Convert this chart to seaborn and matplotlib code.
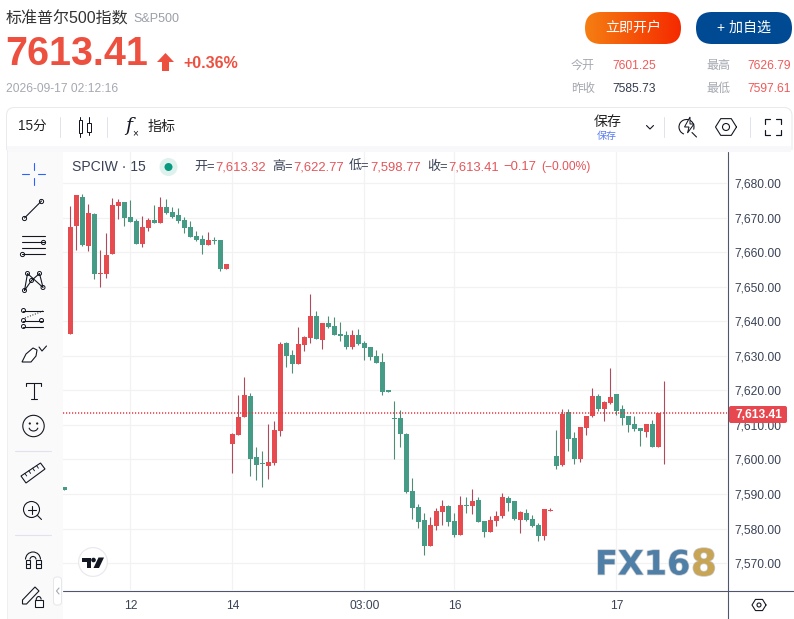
import numpy as np
import pandas as pd
import matplotlib
matplotlib.use('Agg')
import matplotlib.pyplot as plt
import matplotlib.patheffects as pe
from matplotlib.patches import Circle, FancyBboxPatch, Polygon, Rectangle, Arc
import seaborn as sns

# 15 minute bars, first one is cut off by the left edge of the plot
opens = [7592.0,
    7636.3, 7667.6, 7676.0, 7661.8, 7671.0, 7653.7, 7653.7, 7659.5, 7673.3, 7674.5,
    7670.2, 7669.0, 7662.3, 7667.0, 7669.3, 7668.4, 7673.1, 7671.6, 7670.7, 7669.3,
    7667.3, 7664.7, 7663.8, 7662.1, 7663.5, 7663.5, 7655.1, 7604.5, 7607.1, 7612.3,
    7618.4, 7600.7, 7599.0, 7598.1, 7599.0, 7608.2, 7633.7, 7630.2, 7627.6, 7633.1,
    7635.1, 7641.5, 7634.6, 7639.5, 7638.6, 7636.3, 7636.0, 7632.5, 7636.0, 7633.7,
    7632.5, 7629.9, 7628.2, 7620.1, 7612.0, 7612.0, 7607.4, 7590.9, 7586.2, 7582.5,
    7574.9, 7580.7, 7584.8, 7586.5, 7582.2, 7578.1, 7586.8, 7586.5, 7588.2, 7582.2,
    7579.0, 7582.2, 7583.6, 7588.8, 7588.0, 7582.5, 7584.5, 7582.8, 7581.0, 7577.8,
    7585.1, 7601.0, 7598.4, 7613.7, 7606.2, 7600.1, 7609.1, 7612.6, 7618.4, 7614.6,
    7616.3, 7618.9, 7614.6, 7612.6, 7610.2, 7609.1, 7607.9, 7610.2, 7603.6, 7613.32]
highs = [7592.0,
    7673.3, 7676.5, 7676.8, 7673.9, 7671.3, 7660.6, 7665.5, 7675.7, 7675.4, 7674.5,
    7675.1, 7669.6, 7670.4, 7669.9, 7673.6, 7676.0, 7675.4, 7673.1, 7672.8, 7670.2,
    7669.0, 7666.1, 7665.0, 7665.8, 7664.4, 7663.5, 7656.6, 7607.6, 7618.6, 7623.8,
    7619.2, 7603.6, 7602.4, 7610.2, 7611.1, 7634.0, 7634.0, 7631.7, 7638.3, 7635.7,
    7647.9, 7643.0, 7639.5, 7641.5, 7641.2, 7639.8, 7637.2, 7637.5, 7637.7, 7634.3,
    7632.5, 7631.7, 7630.8, 7620.1, 7616.9, 7614.3, 7607.6, 7594.6, 7587.1, 7584.5,
    7583.3, 7585.9, 7588.2, 7586.8, 7584.5, 7589.4, 7589.1, 7591.4, 7589.1, 7582.2,
    7583.6, 7585.1, 7590.3, 7589.4, 7588.0, 7585.1, 7585.6, 7583.9, 7581.6, 7585.6,
    7585.9, 7608.5, 7614.6, 7614.6, 7607.9, 7609.4, 7612.6, 7620.7, 7618.9, 7616.9,
    7626.5, 7618.9, 7615.7, 7612.6, 7612.6, 7609.1, 7610.2, 7611.4, 7613.4, 7622.77]
lows = [7591.1,
    7636.3, 7660.6, 7661.8, 7660.3, 7652.2, 7649.9, 7652.5, 7659.5, 7669.6, 7667.6,
    7668.7, 7662.3, 7661.5, 7666.1, 7668.4, 7668.4, 7671.0, 7669.9, 7668.4, 7665.5,
    7664.4, 7663.2, 7659.5, 7662.1, 7662.3, 7654.5, 7655.1, 7596.1, 7607.1, 7612.3,
    7595.2, 7594.0, 7592.0, 7594.3, 7598.4, 7606.8, 7626.7, 7625.0, 7627.6, 7631.4,
    7633.7, 7634.8, 7632.0, 7638.0, 7636.0, 7634.3, 7632.0, 7632.0, 7633.1, 7628.8,
    7628.8, 7627.9, 7618.6, 7619.5, 7600.1, 7603.6, 7590.3, 7582.8, 7580.1, 7572.3,
    7574.9, 7579.6, 7581.0, 7580.7, 7577.5, 7578.1, 7584.5, 7584.2, 7581.9, 7577.5,
    7579.0, 7580.7, 7583.0, 7585.1, 7582.5, 7578.7, 7582.2, 7580.4, 7576.4, 7576.7,
    7585.1, 7597.2, 7598.1, 7602.4, 7598.7, 7599.2, 7607.1, 7612.3, 7614.0, 7611.1,
    7616.0, 7612.9, 7610.0, 7607.9, 7608.2, 7603.9, 7606.5, 7603.6, 7603.6, 7598.77]
closes = [7591.1,
    7667.3, 7676.5, 7662.1, 7671.3, 7653.7, 7654.0, 7659.2, 7673.6, 7674.5, 7669.9,
    7668.7, 7662.3, 7667.3, 7669.3, 7668.4, 7673.1, 7671.3, 7670.2, 7669.0, 7667.0,
    7664.4, 7663.5, 7662.1, 7663.5, 7663.2, 7655.1, 7656.6, 7607.4, 7612.3, 7618.6,
    7600.1, 7598.4, 7598.7, 7599.2, 7608.5, 7633.4, 7629.9, 7627.6, 7633.4, 7635.4,
    7641.5, 7634.8, 7639.5, 7638.3, 7636.0, 7635.7, 7632.5, 7636.0, 7633.4, 7632.2,
    7629.6, 7627.9, 7619.5, 7619.5, 7611.7, 7607.4, 7590.6, 7585.9, 7581.9, 7574.9,
    7581.0, 7585.1, 7586.5, 7581.9, 7578.1, 7586.8, 7586.5, 7588.0, 7581.9, 7579.0,
    7582.5, 7583.6, 7589.1, 7587.4, 7582.8, 7584.8, 7582.5, 7580.7, 7577.8, 7585.6,
    7585.4, 7598.1, 7613.1, 7605.9, 7600.1, 7609.4, 7612.6, 7618.4, 7614.6, 7616.6,
    7618.1, 7614.0, 7612.0, 7610.0, 7608.8, 7608.2, 7610.2, 7603.6, 7613.4, 7613.41]

y_ticks = [7570, 7580, 7590, 7600, 7610, 7620, 7630, 7640, 7650, 7660, 7670, 7680]
x_tick_bars = [10, 27, 49, 64, 91]
x_tick_labels = ['12', '14', '03:00', '16', '17']
last_price = 7613.41

RED = '#e64b50'
GREEN = '#469b87'
RED_WICK = '#b04a5a'
GREEN_WICK = '#4f8c74'
DARK = '#131722'
AXIS_TEXT = '#3a4256'
GREY = '#a5a8b1'
NUM_RED = '#ee5a5a'

sns.set_theme(style='white')
plt.rcParams['font.family'] = ['Liberation Sans', 'Noto Sans CJK SC', 'DejaVu Sans']
W, H = 794, 619


def pts(n):
    # css pixels to points at dpi 100
    return n * 0.72


fig = plt.figure(figsize=(W / 100, H / 100), dpi=100, facecolor='white')
ax = fig.add_axes([63 / W, (H - 590) / H, (727 - 63) / W, (590 - 152) / H])

df = pd.DataFrame({'bar': np.arange(-1, len(opens) - 1), 'open': opens, 'high': highs,
                   'low': lows, 'close': closes})
df['base'] = df[['open', 'close']].min(axis=1)
df['body'] = (df['close'] - df['open']).abs()
df['up'] = df['close'] >= df['open']

# wicks first so the bodies sit on top
for is_up, wick_color in [(True, RED_WICK), (False, GREEN_WICK)]:
    part = df[df['up'] == is_up]
    ax.vlines(part['bar'], part['low'], part['high'], color=wick_color, lw=pts(1.1), zorder=0.8)

for is_up, body_color in [(True, RED), (False, GREEN)]:
    part = df[df['up'] == is_up]
    sns.barplot(data=part, x='bar', y='body', bottom=part['base'].values, native_scale=True,
                width=5 / 6, gap=0, color=body_color, saturation=1, errorbar=None,
                linewidth=0, ax=ax)

# dash lengths scale with lw, these add up to a 3px period
ax.axhline(last_price, color='#ee2f3a', lw=pts(1.5), ls=(0, (0.8, 1.2)), zorder=3)

ax.set_xlim(-1.25, 109.42)
ax.set_ylim(7562.2, 7689.0)
ax.set_xticks(x_tick_bars)
ax.set_xticklabels(x_tick_labels)
ax.set_yticks(y_ticks)
ax.set_yticklabels([f'{v:,.2f}' for v in y_ticks])
ax.yaxis.tick_right()
ax.tick_params(axis='x', length=0, pad=pts(10), labelsize=pts(12), labelcolor=AXIS_TEXT)
ax.tick_params(axis='y', length=0, pad=pts(7), labelsize=pts(12), labelcolor=AXIS_TEXT)
ax.set_xlabel('')
ax.set_ylabel('')
ax.grid(True, color='#f2f2f3', lw=pts(1.3))
ax.set_axisbelow(True)
for side in ['top', 'left', 'bottom', 'right']:
    ax.spines[side].set_visible(False)

# everything around the chart lives on a pixel-addressed overlay
ui = fig.add_axes([0, 0, 1, 1], zorder=5)
ui.patch.set_alpha(0)
ui.axis('off')


def label(x, y, s, size=12, color=DARK, ha='left', weight='normal', **kw):
    return ui.text(x, y, s, fontsize=pts(size), color=color, ha=ha, va='center', weight=weight, **kw)


def stroke(xs, ys, color=DARK, lw=1.1, **kw):
    ui.plot(xs, ys, color=color, lw=pts(lw), solid_capstyle='round', **kw)


def node(x, y, r=2.1):
    ui.add_patch(Circle((x, y), r, fc='white', ec=DARK, lw=pts(1)))


def hexagon(cx, cy, r, hole):
    a = np.deg2rad(np.arange(0, 361, 60))
    stroke(cx + r * np.cos(a), cy + r * 0.92 * np.sin(a))
    ui.add_patch(Circle((cx, cy), hole, fc='none', ec=DARK, lw=pts(1.1)))


# panel frame, only the toolbar part has a visible border
frame = FancyBboxPatch((6.5, 107.5), 785.5, 520, boxstyle='round,pad=0,rounding_size=8',
                       fc='none', ec='#e9e9ee', lw=pts(1))
ui.add_patch(frame)
frame.set_clip_path(Rectangle((0, 100), W, 50, transform=ui.transData))
ui.add_patch(Rectangle((7, 146), 784, 6, fc='#f8f8fa', ec='none'))
ui.add_patch(Rectangle((7, 152), 56, 467, fc='#fafafb', ec='none'))
stroke([6.5, 6.5], [150, 619], color='#efeff3', lw=1)
stroke([727.5, 727.5], [152, 619], color='#50566b', lw=1.1)
stroke([63, 794], [590.5, 590.5], color='#50566b', lw=1.1)
for sep_x in [60, 107, 664, 750]:
    stroke([sep_x, sep_x], [117, 137], color='#e0e3eb', lw=1)

# header
label(6, 19, '标准普尔500指数', size=16, color='#333333')
label(133, 19, 'S&P500', size=12.5, color='#9a9ea8')
label(5, 54, '7613.41', size=39.5, color='#ee5040', weight='bold')
ui.add_patch(Polygon([(165.5, 53), (174, 62), (169, 62), (169, 71), (162, 71), (162, 62), (157, 62)],
                     fc='#ee5040', ec='none'))
label(183, 63, '+0.36%', size=16, color='#ee5040', weight='bold')
label(6, 89, '2026-09-17 02:12:16', size=12, color=GREY)

# buttons
orange = FancyBboxPatch((585, 12), 96, 32, boxstyle='round,pad=0,rounding_size=16', fc='none', ec='none')
ui.add_patch(orange)
grad = np.linspace(0, 1, 64).reshape(1, -1)
cmap = matplotlib.colors.LinearSegmentedColormap.from_list('btn', ['#f57e12', '#f52a00'])
img = ui.imshow(grad, extent=(585, 681, 44, 12), cmap=cmap, aspect='auto', zorder=1)
img.set_clip_path(orange)
label(633, 28, '立即开户', size=14, color='white', ha='center', zorder=2)
ui.add_patch(FancyBboxPatch((696, 12), 96, 32, boxstyle='round,pad=0,rounding_size=16', fc='#004a94', ec='none'))
label(744, 28, '+ 加自选', size=14, color='white', ha='center')

# quote table
for lx, vx, yy, name, val, col in [(571, 612, 66, '今开', '7601.25', NUM_RED),
                                   (706, 747, 66, '最高', '7626.79', NUM_RED),
                                   (571, 612, 89, '昨收', '7585.73', '#333a4d'),
                                   (706, 747, 89, '最低', '7597.61', NUM_RED)]:
    label(lx, yy, name, size=12, color=GREY)
    label(vx, yy, val, size=12, color=col)

# top toolbar
label(18, 127, '15分', size=13.5, color='#222222')
for x0, x1, wt, wb, bt, bb in [(78.5, 82, 117, 137, 120, 133), (86.5, 90.5, 117, 135, 123, 132)]:
    xm = (x0 + x1) / 2
    stroke([xm, xm], [wt, wb], lw=1)
    ui.add_patch(Rectangle((x0, bt), x1 - x0, bb - bt, fc='white', ec=DARK, lw=pts(1), zorder=3))
ui.text(129, 126, 'f', fontsize=pts(19), family='DejaVu Serif', style='italic', color=DARK, ha='center', va='center')
label(132, 133, '×', size=10, color=DARK)
label(148, 127, '指标', size=14, color='#222222')
label(607.5, 122, '保存', size=14, color='#222222', ha='center')
label(607, 136, '保存', size=10, color='#5b7cf0', ha='center')
stroke([646.5, 650, 653.5], [125.5, 129, 125.5])
ui.add_patch(Arc((686.5, 127), 15, 15, theta1=110, theta2=20, ec=DARK, lw=pts(1.1)))
ui.add_patch(Polygon([(690, 117), (684.5, 127), (689, 127), (687.5, 133), (694, 124), (690, 124)],
                     fc='white', ec=DARK, lw=pts(1), zorder=3))
stroke([692, 696.5], [132.5, 137])
hexagon(726, 127, 10.5, 3.5)
for cx, sx in [(764.5, 1), (780.5, -1)]:
    for cy, sy in [(118.5, 1), (134.5, -1)]:
        stroke([cx + sx * 5, cx, cx], [cy, cy, cy + sy * 5], color=DARK, lw=1.2)

# status line above the plot
label(72, 167, 'SPCIW · 15', size=14, color=AXIS_TEXT)
ui.add_patch(Circle((168.5, 167), 9, fc='#dff1ed', ec='none'))
ui.add_patch(Circle((168.5, 167), 4, fc='#089981', ec='none'))
for x0, name, val in [(194, '开', '7,613.32'), (272, '高', '7,622.77'), (349, '低', '7,598.77'), (427, '收', '7,613.41')]:
    label(x0, 167, name + '=', size=13, color=AXIS_TEXT)
    label(x0 + 21, 167, val, size=13, color='#e4555a')
label(503, 167, '−0.17', size=13, color='#e4555a')
label(541, 167, '(−0.00%)', size=12, color='#e4555a')

# left drawing tools
blue = '#2962ff'
stroke([22, 29], [174, 174], color=blue)
stroke([38, 45], [174, 174], color=blue)
stroke([33.5, 33.5], [163, 170], color=blue)
stroke([33.5, 33.5], [178, 185], color=blue)

stroke([24.5, 41.5], [218, 201])
node(24.5, 218.5)
node(41.5, 201.5)

for yy in [236, 242, 248, 254]:
    stroke([22, 45], [yy, yy])
node(43.5, 242.5)
node(22.5, 254.5)

pts_x = [24.5, 27.5, 43, 39.5, 31.5, 24.5]
pts_y = [290.5, 273.5, 287.5, 273.5, 280.5, 290.5]
stroke(pts_x, pts_y)
for nx, ny in zip(pts_x[:-1], pts_y[:-1]):
    node(nx, ny, 2)

for yy in [310.5, 320.5, 326.5]:
    stroke([23, 43], [yy, yy])
stroke([25, 43], [318, 311], ls=':', lw=1)
for nx, ny in [(23.5, 310.5), (23.5, 320.5), (41.5, 320.5), (23.5, 326.5)]:
    node(nx, ny, 2)

ui.add_patch(Polygon([(22, 362), (26, 354), (33, 348), (37, 350), (36, 356), (31, 362)], closed=True,
                     fc='white', ec=DARK, lw=pts(1.1)))
stroke([39, 42, 46.5], [347, 351, 346])

stroke([26, 26, 41, 41], [386, 382.5, 382.5, 386])
stroke([33.5, 33.5], [382.5, 399])
stroke([30.5, 36.5], [399, 399])

ui.add_patch(Circle((33.5, 426), 10.7, fc='none', ec=DARK, lw=pts(1.1)))
ui.add_patch(Circle((29.8, 423.5), 1.1, fc=DARK, ec='none'))
ui.add_patch(Circle((37.2, 423.5), 1.1, fc=DARK, ec='none'))
ui.add_patch(Arc((33.5, 427), 9, 8, theta1=10, theta2=170, ec=DARK, lw=pts(1.1)))

stroke([15, 51], [451, 451], color='#e0e3eb')

ui.add_patch(Polygon([(21, 476), (40.5, 463), (45, 469), (26, 483)], fc='none', ec=DARK, lw=pts(1.1)))
for t in [0.2, 0.4, 0.6, 0.8]:
    tx, ty = 21 + 19.5 * t, 476 - 13 * t
    stroke([tx, tx + 1.8], [ty, ty + 2.6], lw=0.9)

ui.add_patch(Circle((31.5, 509.5), 8, fc='none', ec=DARK, lw=pts(1.1)))
stroke([27.5, 35.5], [509.5, 509.5])
stroke([31.5, 31.5], [505.5, 513.5])
stroke([37.5, 41.5], [515.5, 519.5])

stroke([15, 51], [535, 535], color='#e0e3eb')

ui.add_patch(Arc((33, 559.5), 15, 15, theta1=180, theta2=0, ec=DARK, lw=pts(1.1)))
ui.add_patch(Arc((33, 559.5), 6, 6, theta1=180, theta2=0, ec=DARK, lw=pts(1.1)))
ui.add_patch(Rectangle((25.5, 559.5), 4.5, 8, fc='none', ec=DARK, lw=pts(1.1)))
ui.add_patch(Rectangle((36, 559.5), 4.5, 8, fc='none', ec=DARK, lw=pts(1.1)))
stroke([25.5, 30], [564, 564])
stroke([36, 40.5], [564, 564])

ui.add_patch(Polygon([(22.5, 600), (35, 587), (39, 591), (26.5, 604), (22.5, 604)], fc='none', ec=DARK, lw=pts(1.1)))
ui.add_patch(Rectangle((35, 600), 7.5, 6.5, fc='white', ec=DARK, lw=pts(1.1), zorder=3))
ui.add_patch(Arc((38.7, 600), 5, 7, theta1=180, theta2=350, ec=DARK, lw=pts(1.1)))

ui.add_patch(FancyBboxPatch((53.5, 577), 8, 28, boxstyle='round,pad=0,rounding_size=3', fc='white', ec='#e6e7ec', lw=pts(1)))
stroke([59, 56.5, 59], [588, 591, 594], color='#a5a8b1')

# price tag on the right axis
ui.add_patch(FancyBboxPatch((729, 406), 58, 17, boxstyle='round,pad=0,rounding_size=2', fc='#e7484f', ec='none'))
label(735, 414.5, f'{last_price:,.2f}', size=12, color='white', weight='bold')

hexagon(759, 605, 7, 2)

# tradingview badge
ui.add_patch(Circle((93, 562), 15, fc='#e9e9ee', ec='none'))
ui.add_patch(Circle((93, 562), 13.8, fc='white', ec='none'))
ui.add_patch(Polygon([(82, 557.5), (91, 557.5), (91, 568), (86.5, 568), (86.5, 562), (82, 562)], fc=DARK, ec='none'))
ui.add_patch(Circle((93.5, 560), 2.3, fc=DARK, ec='none'))
ui.add_patch(Polygon([(98.5, 557.5), (104, 557.5), (99, 568), (93.5, 568)], fc=DARK, ec='none'))

# watermark
shadow = [pe.withStroke(linewidth=pts(1.5), foreground='#c9ccd1')]
ui.text(595, 565, 'FX16', fontsize=pts(33.5), family='DejaVu Sans', weight='bold', color='#4f7fa6',
        ha='left', va='center', path_effects=shadow)
ui.text(691, 565, '8', fontsize=pts(37), family='DejaVu Sans', weight='bold', color='#c8a455',
        ha='left', va='center', path_effects=shadow)

ui.set_xlim(0, W)
ui.set_ylim(H, 0)

fig.savefig('out.png', dpi=100)
